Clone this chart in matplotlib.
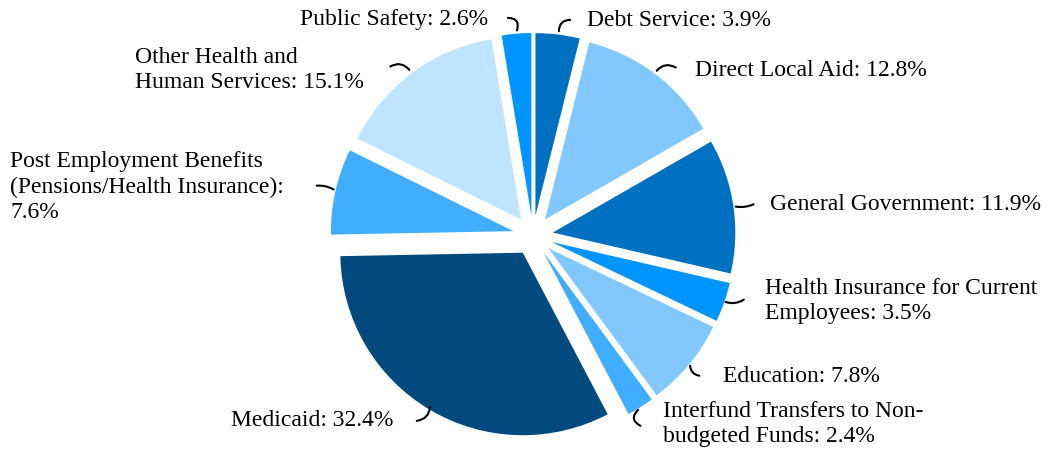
import matplotlib.pyplot as plt

# budget shares, clockwise from 12 o'clock
labels = ['Debt Service', 'Direct Local Aid', 'General Government',
          'Health Insurance for Current\nEmployees', 'Education',
          'Interfund Transfers to Non-\nbudgeted Funds', 'Medicaid',
          'Post Employment Benefits\n(Pensions/Health Insurance):\n',
          'Other Health and\nHuman Services', 'Public Safety']
shares = [3.9, 12.8, 11.9, 3.5, 7.8, 2.4, 32.4, 7.6, 15.1, 2.6]
colors = ['#0070C0', '#80C8FF', '#0070C0', '#0094FF', '#80C8FF',
          '#40ADFF', '#004A7F', '#40ADFF', '#BFE4FF', '#0094FF']

W, H = 1050, 454
# label anchor (image px): x, y, ha
label_pos = [(587, 20, 'left'), (695, 70, 'left'), (770, 205, 'left'),
             (765, 301, 'left'), (723, 377, 'left'), (663, 424, 'left'),
             (393, 420, 'right'), (10, 187, 'left'), (135, 70, 'left'),
             (488, 20, 'right')]
# leader lines: start (slice edge), end (near label), curvature
leaders = [((559, 34), (573, 20), -0.6), ((655, 73), (678, 69), -0.5),
           ((733, 206), (756, 203), 0.2), ((723, 301), (746, 298), 0.3),
           ((690, 363), (702, 376), 0.5), ((640, 408), (643, 427), 0.8),
           ((430, 404), (414, 421), -0.5), ((314, 186), (336, 191), -0.2),
           ((411, 72), (388, 68), 0.5), ((516, 33), (505, 18), 0.8)]

fig = plt.figure(figsize=(W / 100, H / 100), dpi=100)
ax = fig.add_axes([0, 0, 1, 1])

# explode is an absolute offset in data units (px here)
ax.pie(shares, colors=colors, startangle=90, counterclock=False,
       center=(533, H - 235.5), radius=182.5, explode=[20] * len(shares),
       wedgeprops=dict(linewidth=0))
ax.set_xlim(0, W)
ax.set_ylim(0, H)
ax.set_aspect('equal')
ax.axis('off')

font = dict(family='Liberation Serif', fontsize=17)
for name, val, (x, y, ha) in zip(labels, shares, label_pos):
    if name.endswith('\n'):
        txt = f'{name}{val}%'
    else:
        txt = f'{name}: {val}%'
    ax.text(x, H - y, txt, ha=ha, va='center', linespacing=1.28, **font)

for (x0, y0), (x1, y1), rad in leaders:
    ax.annotate('', xy=(x1, H - y1), xytext=(x0, H - y0),
                arrowprops=dict(arrowstyle='-', color='black', lw=1.5,
                                connectionstyle=f'arc3,rad={rad}'))

fig.savefig('out.png', dpi=100)
